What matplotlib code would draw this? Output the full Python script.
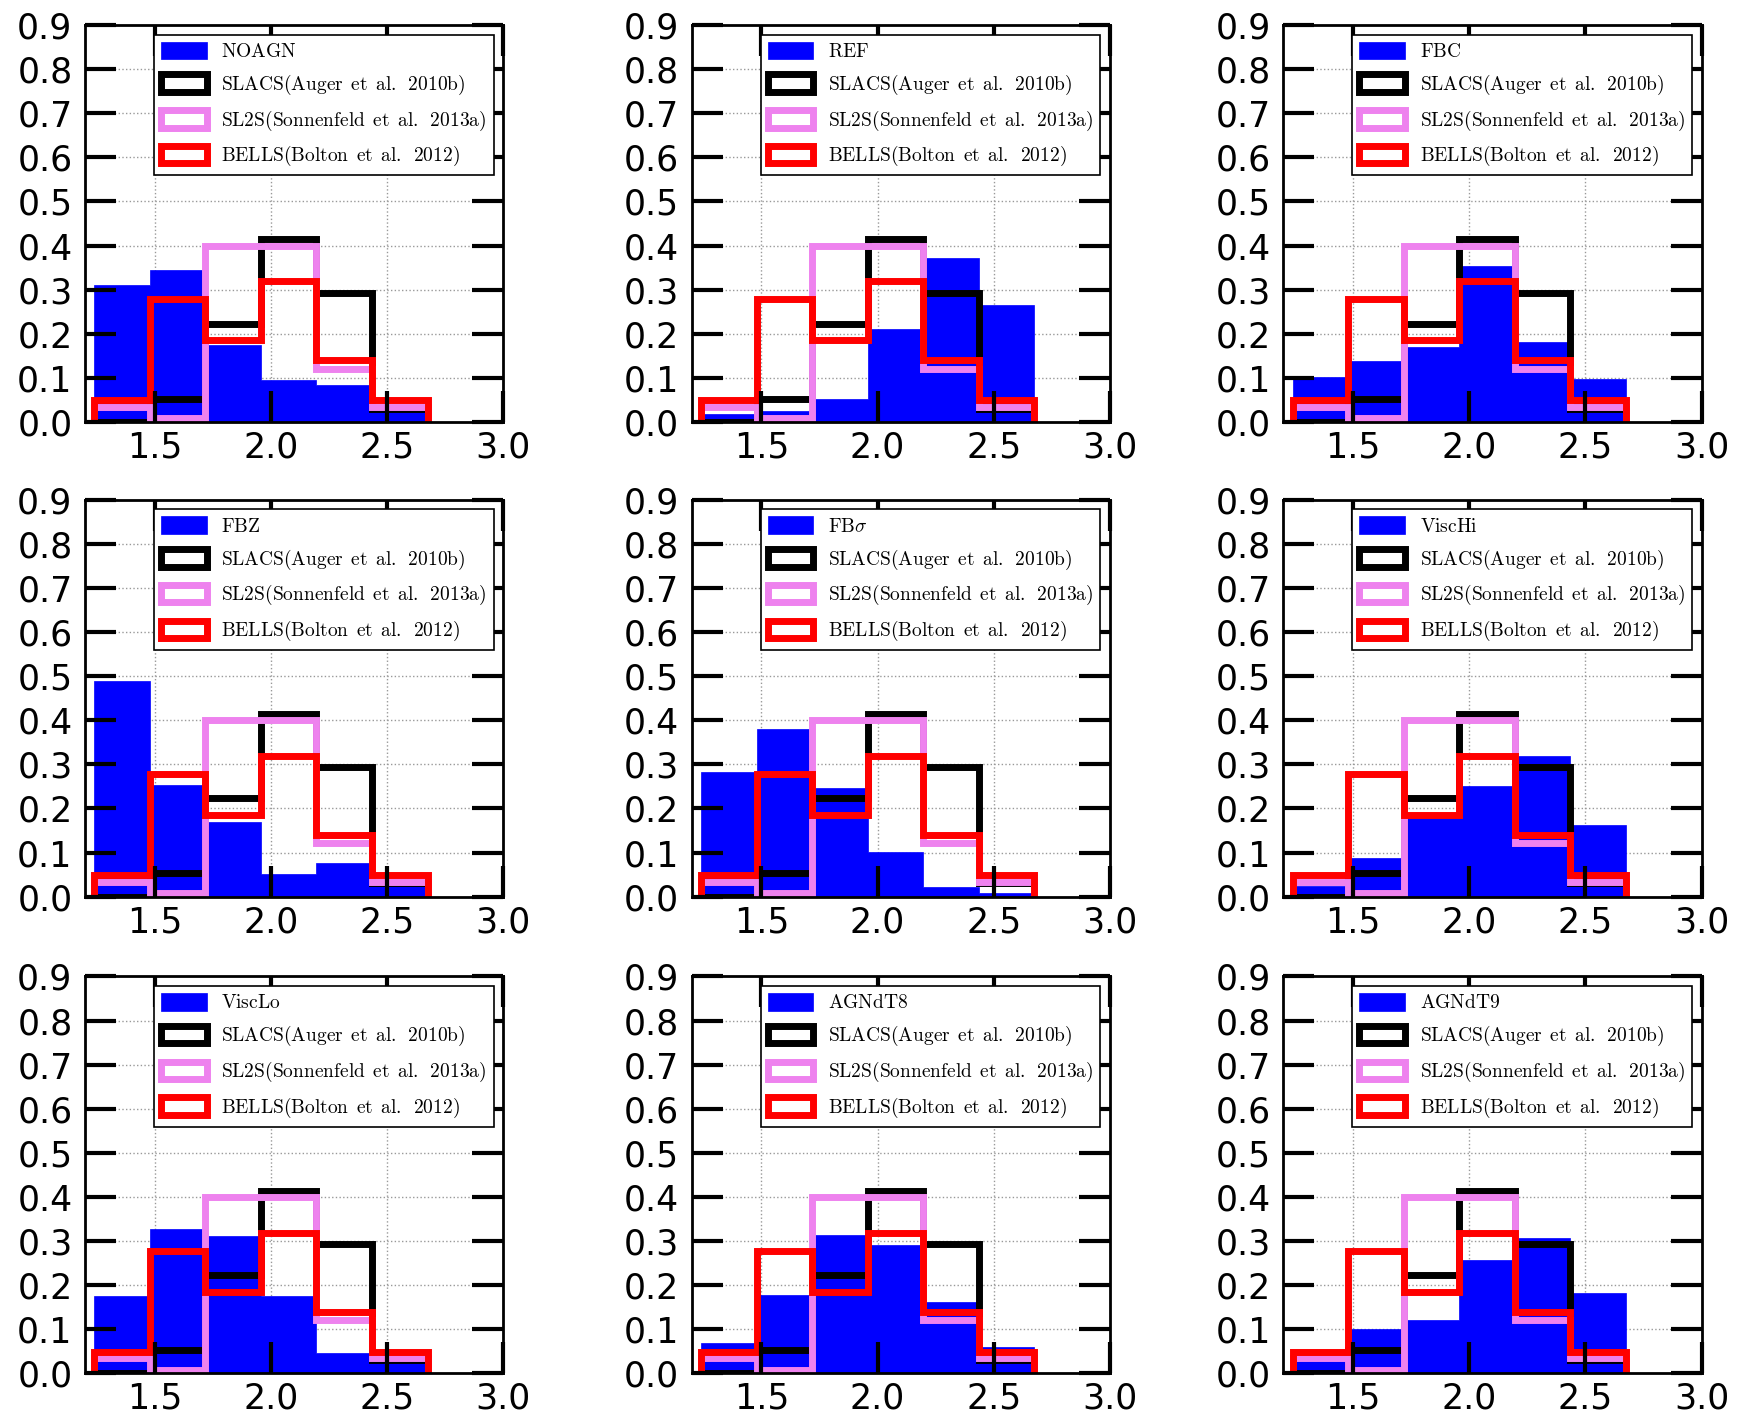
import numpy as np
import matplotlib
matplotlib.use("Agg")
import matplotlib.pyplot as plt

plt.rcParams['font.family'] = ['DejaVu Sans']
plt.rcParams['mathtext.fontset'] = 'cm'

# ---------------- data ----------------
bin_edges = [1.24, 1.479, 1.718, 1.957, 2.196, 2.435, 2.674]

model_names = ['NOAGN', 'REF', 'FBC', 'FBZ', r'FB$\sigma$', 'ViscHi',
               'ViscLo', 'AGNdT8', 'AGNdT9']

noagn = [0.310, 0.344, 0.174, 0.095, 0.085, 0.030]
ref = [0.018, 0.025, 0.052, 0.211, 0.371, 0.266]
fbc = [0.101, 0.138, 0.170, 0.353, 0.181, 0.097]
fbz = [0.488, 0.253, 0.170, 0.052, 0.076, 0.030]
fbsigma = [0.282, 0.380, 0.246, 0.101, 0.023, 0.008]
vischi = [0.025, 0.087, 0.180, 0.250, 0.320, 0.163]
visclo = [0.176, 0.328, 0.311, 0.176, 0.046, 0.033]
agndt8 = [0.068, 0.178, 0.313, 0.291, 0.161, 0.059]
agndt9 = [0.034, 0.100, 0.121, 0.256, 0.307, 0.182]
model_values = [noagn, ref, fbc, fbz, fbsigma, vischi, visclo, agndt8, agndt9]

slacs = [0.0, 0.053, 0.223, 0.414, 0.293, 0.030]
sl2s = [0.034, 0.008, 0.400, 0.400, 0.121, 0.034]
bells = [0.049, 0.278, 0.185, 0.319, 0.140, 0.049]

obs_labels = ['SLACS(Auger et al. 2010b)',
              'SL2S(Sonnenfeld et al. 2013a)',
              'BELLS(Bolton et al. 2012)']
obs_values = [slacs, sl2s, bells]
obs_colors = ['black', 'violet', 'red']

x_ticks = [1.5, 2.0, 2.5, 3.0]
y_ticks = [0.0, 0.1, 0.2, 0.3, 0.4, 0.5, 0.6, 0.7, 0.8, 0.9]


def tex(s):
    if '$' in s:
        parts = s.split('$')
        return r'$\mathrm{' + parts[0] + '}' + parts[1] + '$'
    return r'$\mathrm{' + s.replace(' ', r'\ \,') + '}$'


# ---------------- figure ----------------
fig = plt.figure(figsize=(17.48, 14.15), dpi=100)

W, H = 1748.0, 1415.0
lefts = [85 / W, 691.7 / W, 1283.3 / W]
bottoms = [1 - 422 / H, 1 - 896.7 / H, 1 - 1373.4 / H]
aw, ah = 418.3 / W, 397 / H

edges = np.array(bin_edges)
centers = 0.5 * (edges[:-1] + edges[1:])

for i, (name, vals) in enumerate(zip(model_names, model_values)):
    r, c = divmod(i, 3)
    ax = fig.add_axes([lefts[c], bottoms[r], aw, ah])
    ax.hist(centers, bins=edges, weights=vals, histtype='stepfilled',
            color='blue', edgecolor='blue', linewidth=0.5, label=tex(name),
            zorder=1)
    for lab, ov, col in zip(obs_labels, obs_values, obs_colors):
        ax.hist(centers, bins=edges, weights=ov, histtype='step',
                color=col, linewidth=5, label=tex(lab), zorder=1)
    ax.set_xlim(1.2, 3.0)
    ax.set_ylim(0.0, 0.9)
    ax.set_xticks(x_ticks)
    ax.set_yticks(y_ticks)
    ax.set_xticklabels(['%.1f' % v for v in x_ticks])
    ax.set_yticklabels(['%.1f' % v for v in y_ticks])
    for yv in y_ticks[1:-1]:
        ax.axhline(yv, color='0.6', linestyle=':', linewidth=1, zorder=0)
    for xv in x_ticks[:-1]:
        ax.axvline(xv, color='0.6', linestyle=':', linewidth=1, zorder=0)
    ax.tick_params(which='both', direction='in', top=True, right=True,
                   length=22, width=3, labelsize=25, color='black')
    ax.tick_params(axis='y', pad=9)
    ax.tick_params(axis='x', pad=6)
    for sp in ax.spines.values():
        sp.set_linewidth(2)
        sp.set_zorder(5)
    leg = ax.legend(loc='upper right', fontsize=14, fancybox=False,
                    frameon=True, handlelength=2.35, handleheight=1.0,
                    labelspacing=0.6, handletextpad=0.75, borderpad=0.36,
                    borderaxespad=0.5)
    leg.get_frame().set_edgecolor('black')
    leg.get_frame().set_linewidth(1.2)
    leg.get_frame().set_alpha(1.0)
    leg.set_zorder(10)

fig.savefig('out.png', dpi=100)
